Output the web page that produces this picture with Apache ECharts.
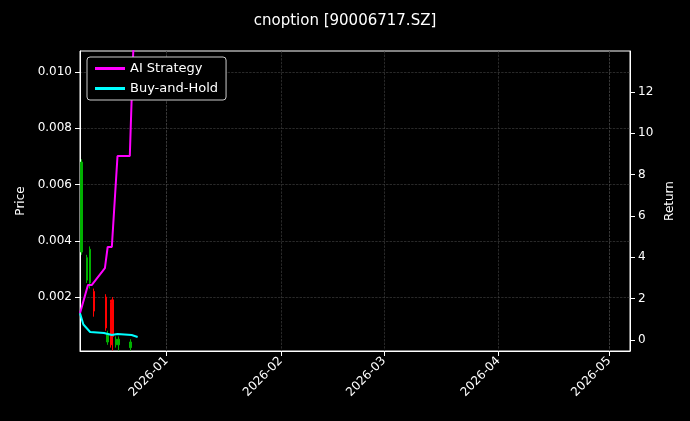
<!DOCTYPE html>
<html>
<head>
<meta charset="utf-8">
<script src="https://cdn.jsdelivr.net/npm/echarts@6/dist/echarts.min.js"></script>
<style>html,body{margin:0;background:#000}#main{width:690px;height:421px}</style>
</head>
<body>
<div id="main"></div>
<script>
// candle days: date, open, close, low, high
var candleDates = ['2025-12-09', '2025-12-10 12:00', '2025-12-11 08:00', '2025-12-12 10:00', '2025-12-15 14:00', '2025-12-16', '2025-12-17', '2025-12-17 10:00', '2025-12-18 08:00', '2025-12-19', '2025-12-22 08:00']
var candleOpen  = [0.0036, 0.0026, 0.0025, 0.0022, 0.0020, 0.0004, 0.0018, 0.0019, 0.0003, 0.0003, 0.0002]
var candleClose = [0.0068, 0.0034, 0.0037, 0.0015, 0.0009, 0.0007, 0.0003, 0.0006, 0.0005, 0.0005, 0.0004]
var candleLow   = [0.0035, 0.0025, 0.0023, 0.0013, 0.0008, 0.0003, 0.0002, 0.0001, 0.0002, 0.0001, 0.0001]
var candleHigh  = [0.0069, 0.0035, 0.0038, 0.0023, 0.0021, 0.0008, 0.0019, 0.0020, 0.0006, 0.0006, 0.0005]

var aiDates    = ['2025-12-08 14:00', '2025-12-10 18:00', '2025-12-11 18:00', '2025-12-15 08:00', '2025-12-16 02:00', '2025-12-17 05:00', '2025-12-18 18:00', '2025-12-22 02:00', '2025-12-22 22:00', '2025-12-23 12:00']
var aiStrategy = [1.3, 2.66, 2.66, 3.48, 4.5, 4.5, 8.9, 8.9, 13.5, 16]
var bhDates    = ['2025-12-08 14:00', '2025-12-09 12:00', '2025-12-11 08:00', '2025-12-15 02:00', '2025-12-17 05:00', '2025-12-18 18:00', '2025-12-22 14:00', '2025-12-24 05:00']
var buyAndHold = [1.3, 0.75, 0.39, 0.34, 0.24, 0.29, 0.24, 0.15]

var candles = candleDates.map(function (d, i) {
    return [d, candleOpen[i], candleClose[i], candleLow[i], candleHigh[i]]
})
function pairs(dates, vals) { return dates.map(function (d, i) { return [d, vals[i]] }) }

var myChart = echarts.init(document.getElementById('main'))
var splitStyle = { show: true, lineStyle: { color: '#444', type: 'dashed', width: 0.6 } }
var axisText = { color: '#fff', fontSize: 12, fontFamily: 'DejaVu Sans' }
var priceTicks = [0.002, 0.004, 0.006, 0.008, 0.010]
var returnTicks = [0, 2, 4, 6, 8, 10, 12]
var monthTicks = ['2026-01-01', '2026-02-01', '2026-03-01', '2026-04-01', '2026-05-01'].map(function (d) { return +new Date(d) })

var option = {
    backgroundColor: '#000',
    animation: false,
    title: { text: 'cnoption [90006717.SZ]', left: 'center', top: 9,
        textStyle: { color: '#fff', fontSize: 15, fontWeight: 'normal', fontFamily: 'DejaVu Sans' } },
    legend: {
        left: 87, top: 57, orient: 'vertical', itemGap: 7, itemWidth: 30, itemHeight: 3,
        backgroundColor: '#000', borderColor: '#ccc', borderWidth: 1, borderRadius: 3, padding: [5, 8],
        textStyle: { color: '#fff', fontSize: 13, fontFamily: 'DejaVu Sans' },
        data: [{ name: 'AI Strategy', icon: 'rect' }, { name: 'Buy-and-Hold', icon: 'rect' }]
    },
    grid: { left: 80, right: 60, top: 51, bottom: 70, show: true, borderColor: '#fff', borderWidth: 1 },
    xAxis: {
        type: 'time',
        min: '2025-12-08 14:00', max: '2026-05-06 16:00',
        axisLine: { onZero: false, lineStyle: { color: '#fff' } },
        axisTick: { lineStyle: { color: '#fff' }, customValues: monthTicks },
        axisLabel: Object.assign({ rotate: 45, formatter: '{yyyy}-{MM}', customValues: monthTicks }, axisText),
        splitLine: splitStyle
    },
    yAxis: [{
        type: 'value', name: 'Price', nameLocation: 'middle', nameGap: 52,
        nameTextStyle: axisText,
        min: 0.00008, max: 0.01075,
        axisLine: { show: true, lineStyle: { color: '#fff' } },
        axisTick: { show: true, customValues: priceTicks },
        axisLabel: Object.assign({ customValues: priceTicks, formatter: function (v) { return v.toFixed(3) } }, axisText),
        splitLine: splitStyle
    }, {
        type: 'value', name: 'Return', nameLocation: 'middle', nameGap: 30,
        nameTextStyle: axisText,
        min: -0.53, max: 13.98,
        axisLine: { show: true, lineStyle: { color: '#fff' } },
        axisTick: { show: true, customValues: returnTicks },
        axisLabel: Object.assign({ customValues: returnTicks }, axisText),
        splitLine: { show: false }
    }],
    series: [{
        type: 'candlestick', yAxisIndex: 0, barWidth: 2, data: candles,
        itemStyle: { color: '#00b000', color0: '#ff0000', borderColor: '#00b000', borderColor0: '#ff0000', borderWidth: 1 }
    }, {
        name: 'AI Strategy', type: 'line', yAxisIndex: 1, data: pairs(aiDates, aiStrategy),
        showSymbol: false, lineStyle: { color: '#ff00ff', width: 2 }, itemStyle: { color: '#ff00ff' }
    }, {
        name: 'Buy-and-Hold', type: 'line', yAxisIndex: 1, data: pairs(bhDates, buyAndHold),
        showSymbol: false, lineStyle: { color: '#00ffff', width: 2 }, itemStyle: { color: '#00ffff' }
    }]
}
myChart.setOption(option)
</script>
</body>
</html>
